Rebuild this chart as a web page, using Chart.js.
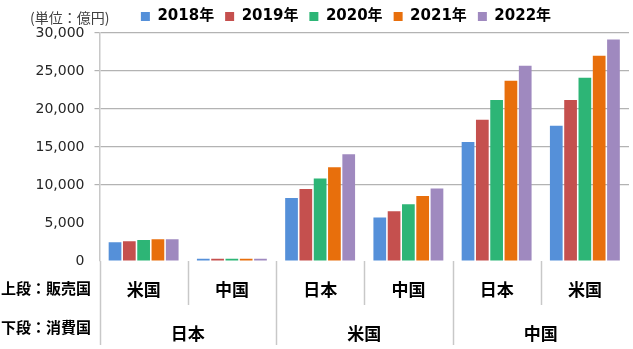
<!DOCTYPE html>
<html>
<head>
<meta charset="utf-8">
<script src="https://cdn.jsdelivr.net/npm/chart.js@4/dist/chart.umd.min.js"></script>
<style>
  html, body { margin: 0; padding: 0; background: #fff; }
  #wrap { width: 633px; height: 349px; }
</style>
</head>
<body>
<div id="wrap"><canvas id="sales-chart"></canvas></div>
<script>
// 上段：販売国 / 下段：消費国
const sellers = ['米国', '中国', '日本', '中国', '日本', '米国'];
const consumers = ['日本', '米国', '中国'];
const years = ['2018年', '2019年', '2020年', '2021年', '2022年'];
const colors = ['#5590D9', '#C5504E', '#2DB576', '#E86F0C', '#9F89BF'];
const yTicks = [0, 5000, 10000, 15000, 20000, 25000, 30000];

// 億円
const v2018 = [2460, 300, 8290, 5710, 15660, 17800];
const v2019 = [2590, 300, 9470, 6540, 18590, 21180];
const v2020 = [2760, 310, 10840, 7460, 21180, 24120];
const v2021 = [2850, 310, 12330, 8550, 23720, 27010];
const v2022 = [2870, 310, 14040, 9530, 25700, 29160];

const unitLabel = '(単位：億円)';
const rowLabel1 = '上段：販売国';
const rowLabel2 = '下段：消費国';

const JP = "'Noto Sans CJK JP', 'DejaVu Sans', sans-serif";
const NUM = "'DejaVu Sans', 'Noto Sans CJK JP', sans-serif";

document.addEventListener('DOMContentLoaded', function() {
  const series = [v2018, v2019, v2020, v2021, v2022];

  // legend: fixed height, and centred over x 63..629 like the original
  const legendFix = {
    id: 'legendFix',
    afterInit(chart) {
      const lg = chart.legend;
      if (!lg) return;
      const fit = lg.fit;
      lg.fit = function() {
        fit.call(this);
        this.height = 35;
      };
    },
    afterLayout(chart) {
      const lg = chart.legend;
      if (!lg) return;
      lg.left = 63;
      lg.right = 629;
      lg.width = lg.right - lg.left;
    }
  };

  // two-level category table below the plot
  const tableAxis = {
    id: 'tableAxis',
    afterDraw(chart) {
      const ctx = chart.ctx;
      const xs = chart.scales.x;
      const area = chart.chartArea;
      const base = area.bottom;
      const edge = i => xs.getPixelForValue(i - 0.5);

      ctx.save();
      ctx.strokeStyle = '#c8c8c8';
      ctx.lineWidth = 1.5;
      for (let i = 0; i < sellers.length; i++) {
        const x = Math.round(edge(i)) + 0.5;
        const bottom = (i % 2 === 0) ? 345 : 305;
        ctx.beginPath();
        ctx.moveTo(x, base);
        ctx.lineTo(x, bottom);
        ctx.stroke();
      }

      ctx.fillStyle = '#000';
      ctx.font = 'bold 17px ' + JP;
      ctx.textAlign = 'center';
      ctx.textBaseline = 'middle';
      consumers.forEach(function(name, g) {
        const x = xs.getPixelForValue(g * 2 + 0.5);
        ctx.fillText(name, x, 334);
      });

      ctx.font = 'bold 15px ' + JP;
      ctx.textAlign = 'left';
      ctx.fillText(rowLabel1, 1, 288);
      ctx.fillText(rowLabel2, 1, 327);

      ctx.font = '14px ' + JP;
      ctx.fillStyle = '#404040';
      ctx.fillText(unitLabel, 30, 18);
      ctx.restore();
    }
  };

  new Chart(document.getElementById('sales-chart'), {
    type: 'bar',
    data: {
      labels: sellers,
      datasets: years.map(function(y, i) {
        return {
          label: y,
          data: series[i],
          backgroundColor: colors[i],
          borderWidth: 0,
          categoryPercentage: 0.81,
          barPercentage: 0.89
        };
      })
    },
    options: {
      responsive: true,
      maintainAspectRatio: false,
      animation: false,
      layout: {
        padding: { top: -2, left: 0, right: 4, bottom: 0 }
      },
      plugins: {
        legend: {
          position: 'top',
          labels: {
            boxWidth: 9,
            boxHeight: 9,
            padding: 11,
            color: '#000',
            font: { family: NUM, size: 15, weight: 'bold' }
          }
        },
        tooltip: { enabled: false }
      },
      scales: {
        x: {
          grid: { display: false, drawTicks: false },
          border: { display: false },
          ticks: {
            padding: 18,
            color: '#000',
            font: { family: JP, size: 17, weight: 'bold' }
          },
          afterFit: function(scale) { scale.height = 88; }
        },
        y: {
          min: 0,
          max: 30000,
          afterBuildTicks: function(scale) {
            scale.ticks = yTicks.map(function(v) { return { value: v }; });
          },
          afterFit: function(scale) { scale.width = 99.5; },
          grid: {
            color: function(c) {
              return (c.tick && c.tick.value > 5000) ? '#b3b3b3' : 'rgba(0,0,0,0)';
            },
            lineWidth: 1.2,
            tickLength: 5
          },
          border: { display: true, color: '#c8c8c8', width: 1.5 },
          ticks: {
            padding: 10,
            color: '#262626',
            font: { family: NUM, size: 14 },
            callback: function(value) {
              return value.toLocaleString('en-US');
            }
          }
        }
      }
    },
    plugins: [legendFix, tableAxis]
  });
});
</script>
</body>
</html>
